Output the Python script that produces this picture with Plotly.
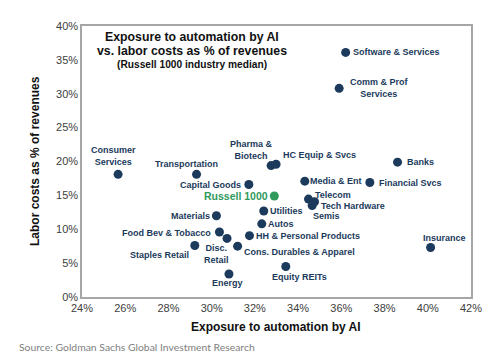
import plotly.graph_objects as go

names = ["Software & Services", "Comm & Prof<br>Services", "Banks", "Consumer<br>Services",
         "Transportation", "Pharma &<br>Biotech", "HC Equip & Svcs", "Capital Goods",
         "Media & Ent", "Financial Svcs", "Telecom", "Tech Hardware", "Semis", "Utilities",
         "Autos", "HH & Personal Products", "Cons. Durables & Apparel", "Materials",
         "Food Bev & Tobacco", "Disc.<br>Retail", "Staples Retail", "Energy", "Equity REITs",
         "Insurance"]
exposure = [36.2, 35.9, 38.6, 25.67, 29.3, 32.75, 32.98, 31.72,
            34.31, 37.32, 34.48, 34.76, 34.65, 32.41,
            32.32, 31.75, 31.2, 30.22,
            30.36, 30.71, 29.22, 30.8, 33.43,
            40.13]
labor = [36.1, 30.8, 19.9, 18.1, 18.1, 19.4, 19.6, 16.6,
         17.1, 16.9, 14.45, 14.06, 13.5, 12.7,
         10.8, 9.05, 7.5, 12.0,
         9.6, 8.65, 7.6, 3.4, 4.5,
         7.3]
bench_name = ["Russell 1000"]
bench_x = [32.9]
bench_y = [14.9]

x_ticks = [24, 26, 28, 30, 32, 34, 36, 38, 40, 42]
y_ticks = [0, 5, 10, 15, 20, 25, 30, 35, 40]

# label placement: (xanchor, yanchor, xshift, yshift) in pixels
place = {
    "Software & Services": ("left", "middle", 6, 0),
    "Comm & Prof<br>Services": ("center", "middle", 40, 0),
    "Banks": ("left", "middle", 8, 0),
    "Consumer<br>Services": ("center", "bottom", -5, 6),
    "Transportation": ("center", "middle", -10, 10),
    "Pharma &<br>Biotech": ("center", "middle", -20, 16),
    "HC Equip & Svcs": ("left", "middle", 6, 9),
    "Capital Goods": ("right", "middle", -7, 0),
    "Media & Ent": ("left", "middle", 4, 0),
    "Financial Svcs": ("left", "middle", 8, 0),
    "Telecom": ("left", "middle", 6, 4),
    "Tech Hardware": ("left", "middle", 5, -4),
    "Semis": ("left", "middle", 0, -10),
    "Utilities": ("left", "middle", 5, 0),
    "Autos": ("left", "middle", 5, 0),
    "HH & Personal Products": ("left", "middle", 6, 0),
    "Cons. Durables & Apparel": ("left", "middle", 5, -6),
    "Materials": ("right", "middle", -5, 0),
    "Food Bev & Tobacco": ("right", "middle", -7, -1),
    "Disc.<br>Retail": ("center", "top", -11, -4),
    "Staples Retail": ("right", "middle", -5, -9),
    "Energy": ("center", "top", -1, -3),
    "Equity REITs": ("center", "top", 14, -4),
    "Insurance": ("center", "middle", 14, 10),
}

navy = "#1b3a5c"
green = "#2f9a5c"
lab_font = "Liberation Sans, Arial"

fig = go.Figure()
fig.add_trace(go.Scatter(x=exposure, y=labor, mode="markers",
                         marker=dict(size=9, color=navy), hoverinfo="text", hovertext=names))
fig.add_trace(go.Scatter(x=bench_x, y=bench_y, mode="markers",
                         marker=dict(size=9, color=green), hovertext=bench_name))

L, R, T, B = 82, 471, 26, 297
def px(xp):
    return (xp - L) / (R - L)
def py(yp):
    return (B - yp) / (B - T)

annotations = []
for n, xv, yv in zip(names, exposure, labor):
    xa, ya, dx, dy = place[n]
    annotations.append(dict(x=xv, y=yv, xref="x", yref="y", text="<b>" + n + "</b>",
                            showarrow=False, borderpad=0,
                            xanchor=xa, yanchor=ya, xshift=dx, yshift=dy, align="center",
                            font=dict(family=lab_font, size=9, color=navy)))
annotations.append(dict(x=bench_x[0], y=bench_y[0], xref="x", yref="y",
                        text="<b>" + bench_name[0] + "</b>", showarrow=False, borderpad=0,
                        xanchor="right", yanchor="middle", xshift=-5, yshift=0,
                        font=dict(family=lab_font, size=10.5, color=green)))
title_lines = [("<b>Exposure to automation by AI</b>", 37, 12.3),
               ("<b>vs. labor costs as % of revenues</b>", 51, 12.3),
               ("<b>(Russell 1000 industry median)</b>", 64, 10.2)]
for t, yy, fs in title_lines:
    annotations.append(dict(x=px(192), y=py(yy), xref="paper", yref="paper", showarrow=False,
                            xanchor="center", yanchor="middle", text=t,
                            font=dict(family=lab_font, size=fs, color="#111111")))
annotations.append(dict(x=px(17), y=py(347), xref="paper", yref="paper", showarrow=False,
                        xanchor="left", yanchor="middle",
                        text="Source: Goldman Sachs Global Investment Research",
                        font=dict(family="Lato, Open Sans", size=10.4, color="#808080")))
annotations.append(dict(x=px(276), y=py(327), xref="paper", yref="paper", showarrow=False,
                        xanchor="center", yanchor="middle",
                        text="<b>Exposure to automation by AI</b>",
                        font=dict(family=lab_font, size=12, color="#111111")))
annotations.append(dict(x=px(35), y=py(161), xref="paper", yref="paper", showarrow=False,
                        xanchor="center", yanchor="middle", textangle=-90,
                        text="<b>Labor costs as % of revenues</b>",
                        font=dict(family=lab_font, size=12, color="#111111")))

fig.update_layout(annotations=annotations)

axis_font = dict(family=lab_font, size=11, color="#404040")
fig.update_xaxes(range=[24, 42], tickvals=x_ticks, ticktext=[f"{v}%" for v in x_ticks],
                 showgrid=False, zeroline=False, showline=True, linecolor="#a6a6a6",
                 linewidth=1.5, mirror=True, ticks="", tickfont=axis_font, automargin=False)
fig.update_yaxes(range=[0, 40], tickvals=y_ticks, ticktext=[f"{v}%" for v in y_ticks],
                 showgrid=False, zeroline=False, showline=True, linecolor="#a6a6a6",
                 linewidth=1.5, mirror=True, ticks="", tickfont=axis_font, automargin=False)
fig.update_layout(width=500, height=361, showlegend=False,
                  margin=dict(l=L, r=500 - R, t=T, b=361 - B),
                  plot_bgcolor="white", paper_bgcolor="white")
fig.write_html("out.html", config={"displayModeBar": False},
               post_script="document.body.style.margin='0px';")
